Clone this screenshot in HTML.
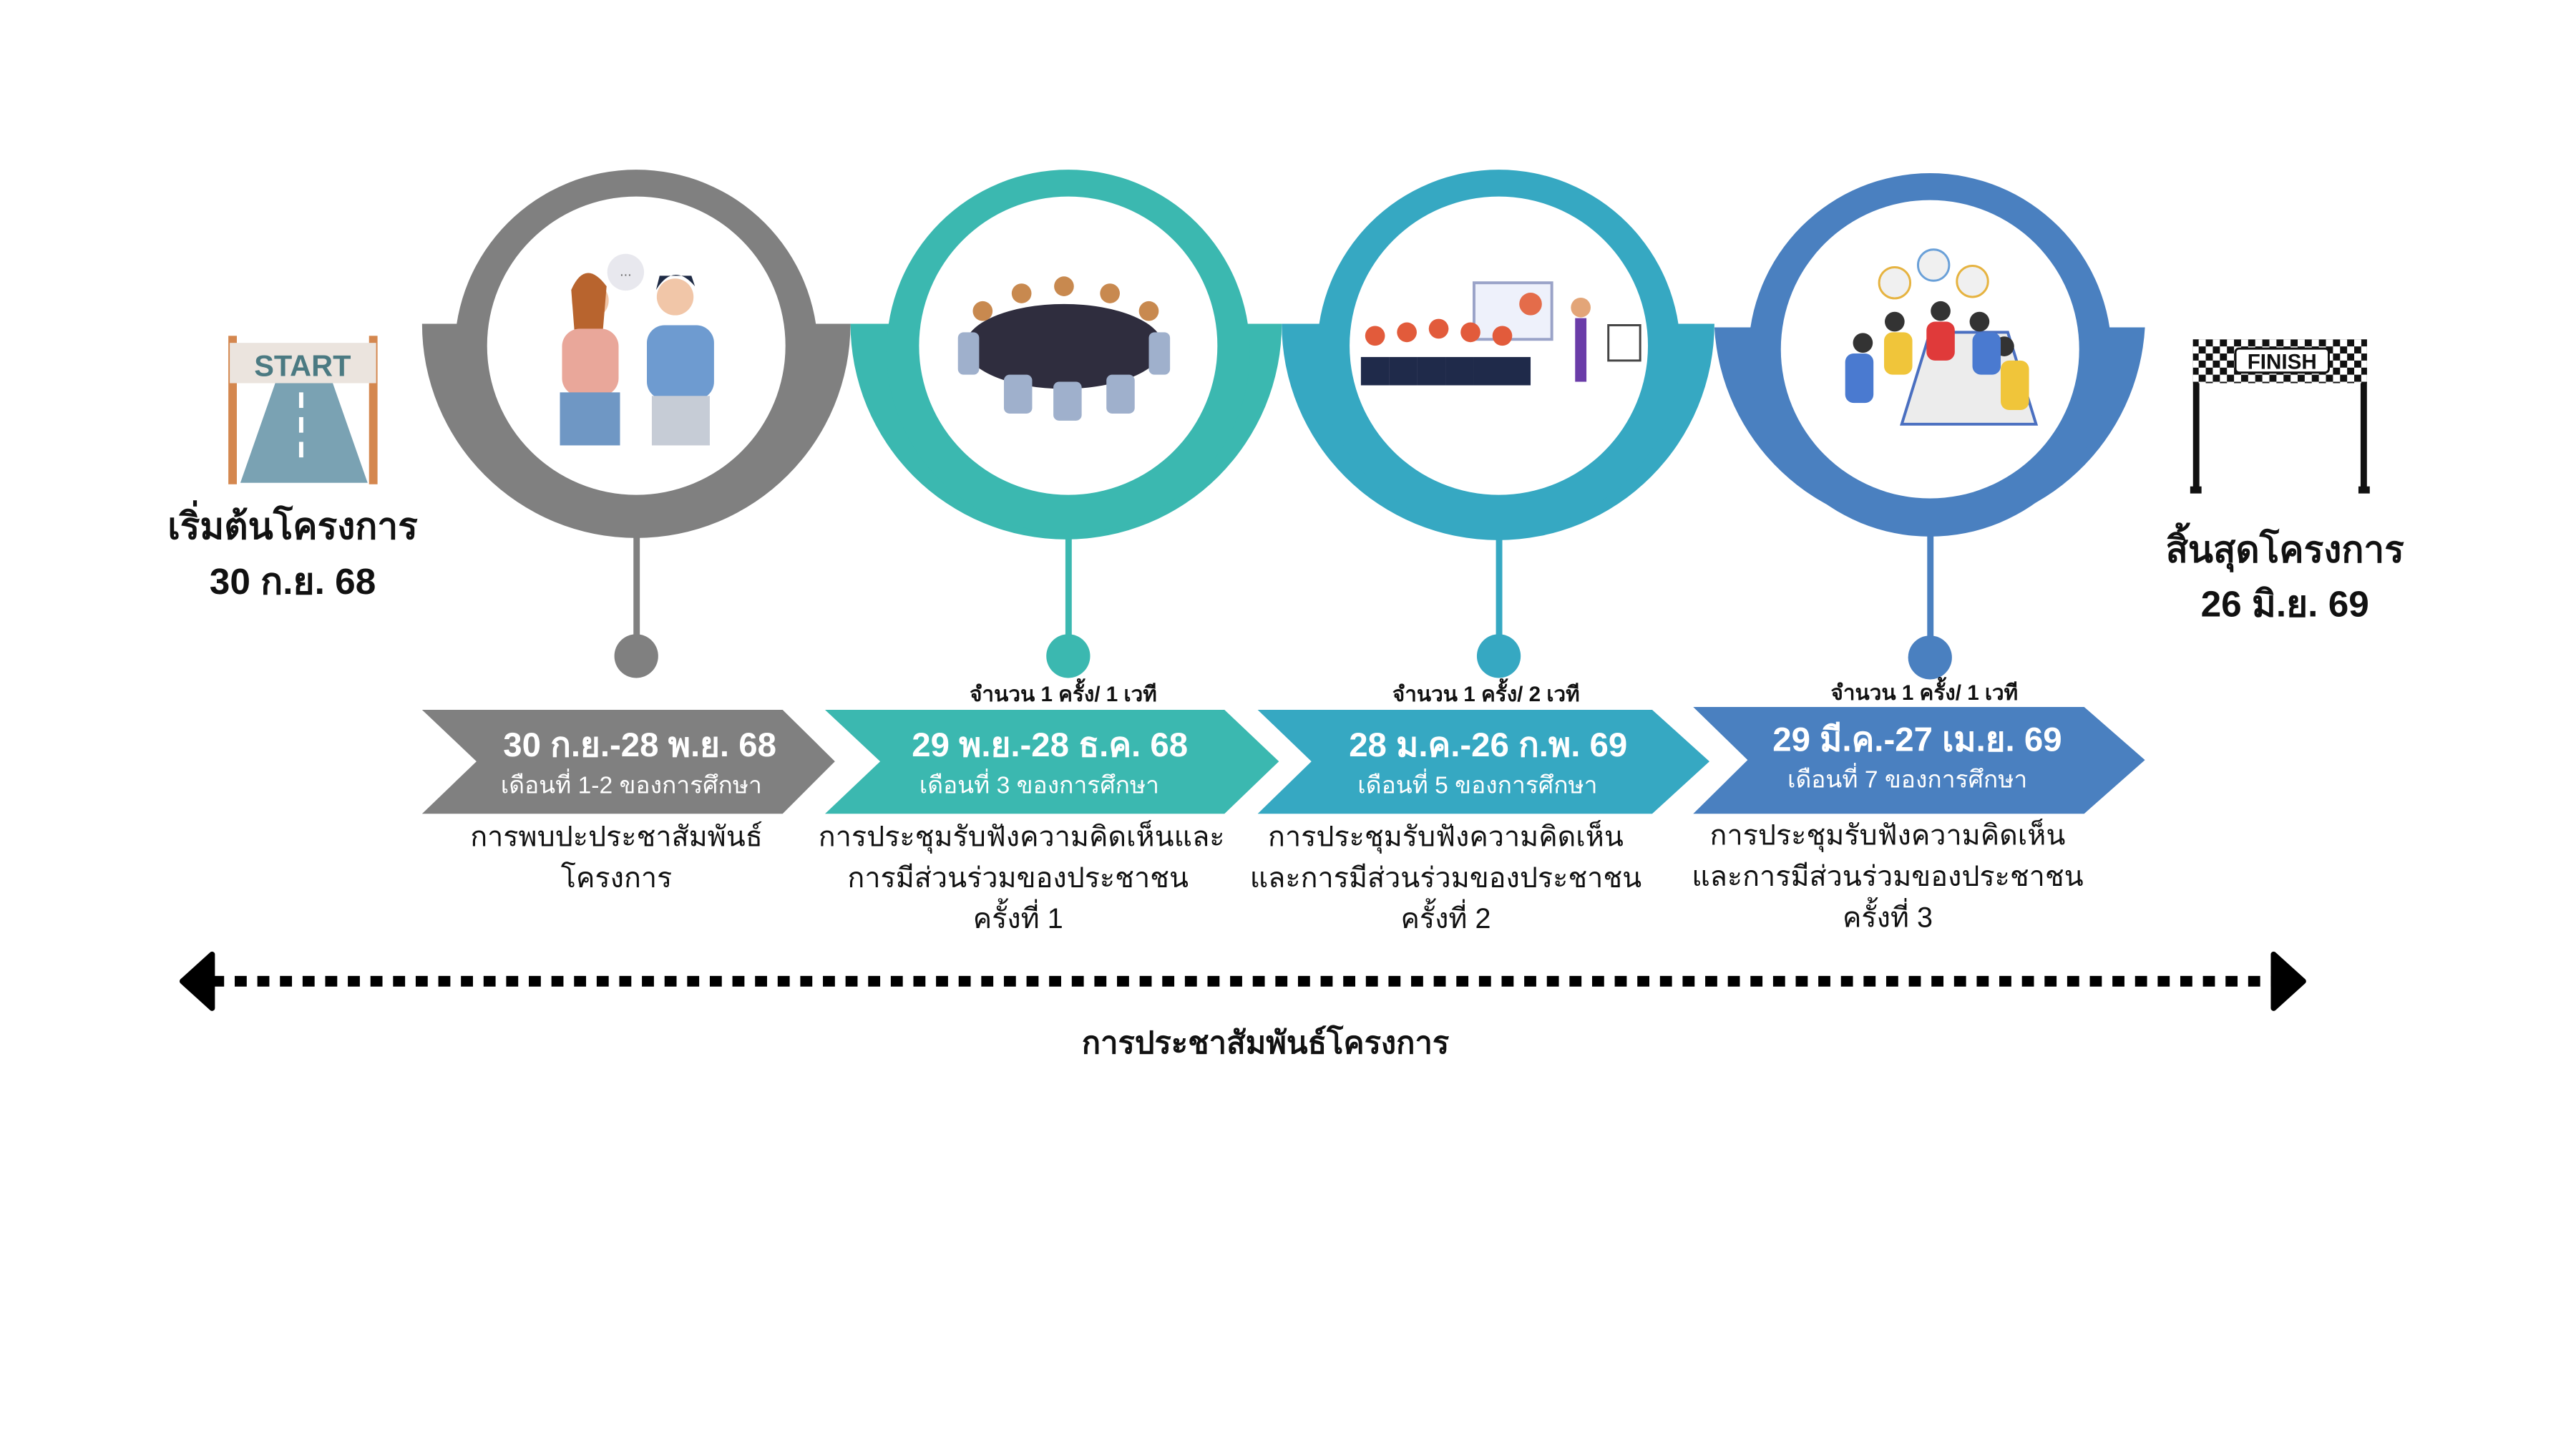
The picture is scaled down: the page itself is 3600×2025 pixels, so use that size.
<!DOCTYPE html>
<html><head><meta charset="utf-8"><style>
html,body{margin:0;padding:0;background:#fff;}
svg{display:block;}
text{font-family:"Liberation Sans","DejaVu Sans",sans-serif;}
</style></head><body>
<svg width="3600" height="2025" viewBox="0 0 3600 2025" xmlns="http://www.w3.org/2000/svg">
<g transform="scale(0.988)">
<!-- cups -->
<path d="M597,458 L1203,458 A303,303 0 0 1 597,458 Z" fill="#808080"/>
<path d="M1203,458 L1813,458 A305,305 0 0 1 1203,458 Z" fill="#3bb8b0"/>
<path d="M1813,458 L2425,458 A306,306 0 0 1 1813,458 Z" fill="#36a8c2"/>
<path d="M2425,463 L3034,463 A305,305 0 0 1 2425,463 Z" fill="#4a80c0"/>
<!-- circles -->
<circle cx="900" cy="497" r="257" fill="#808080"/><circle cx="900" cy="489" r="211" fill="#fff"/>
<circle cx="1511" cy="497" r="257" fill="#3bb8b0"/><circle cx="1511" cy="489" r="211" fill="#fff"/>
<circle cx="2120" cy="497" r="257" fill="#36a8c2"/><circle cx="2120" cy="489" r="211" fill="#fff"/>
<circle cx="2730" cy="502" r="257" fill="#4a80c0"/><circle cx="2730" cy="494" r="211" fill="#fff"/>
<!-- stems -->
<rect x="896" y="750" width="9" height="180" fill="#808080"/><circle cx="900" cy="928" r="31" fill="#808080"/>
<rect x="1507" y="750" width="9" height="180" fill="#3bb8b0"/><circle cx="1511" cy="928" r="31" fill="#3bb8b0"/>
<rect x="2116" y="750" width="9" height="180" fill="#36a8c2"/><circle cx="2120" cy="928" r="31" fill="#36a8c2"/>
<rect x="2726" y="755" width="9" height="180" fill="#4a80c0"/><circle cx="2730" cy="930" r="31" fill="#4a80c0"/>
<!-- illustrations (simplified) -->
<g>
<circle cx="885" cy="385" r="26" fill="#e8e8ee"/><text x="885" y="390" font-size="20" text-anchor="middle" fill="#666">...</text>
<circle cx="835" cy="425" r="26" fill="#f1c6a8"/><path d="M808,410 q20,-45 50,-5 l-5,60 l-40,10z" fill="#b8642e"/>
<rect x="795" y="465" width="80" height="95" rx="25" fill="#e9a79a"/><rect x="792" y="555" width="85" height="75" fill="#6f97c4"/>
<circle cx="955" cy="420" r="26" fill="#f1c6a8"/><path d="M928,410 q25,-40 55,-5 l-5,-15 l-45,0z" fill="#1e2a44"/>
<rect x="915" y="460" width="95" height="105" rx="25" fill="#6e9bd0"/><rect x="922" y="560" width="82" height="70" fill="#c6ccd6"/>
</g>
<g>
<ellipse cx="1505" cy="490" rx="140" ry="60" fill="#2f2d3e"/>
<g fill="#c8894f"><circle cx="1390" cy="440" r="14"/><circle cx="1445" cy="415" r="14"/><circle cx="1505" cy="405" r="14"/><circle cx="1570" cy="415" r="14"/><circle cx="1625" cy="440" r="14"/></g>
<g fill="#9fb0cc"><rect x="1355" y="470" width="30" height="60" rx="8"/><rect x="1625" y="470" width="30" height="60" rx="8"/><rect x="1420" y="530" width="40" height="55" rx="8"/><rect x="1490" y="540" width="40" height="55" rx="8"/><rect x="1565" y="530" width="40" height="55" rx="8"/></g>
</g>
<g>
<rect x="2085" y="400" width="110" height="80" fill="#eef1fb" stroke="#9aa3c8" stroke-width="4"/><circle cx="2165" cy="430" r="16" fill="#e46c4a"/>
<g fill="#1f2a4a"><rect x="1925" y="505" width="40" height="40"/><rect x="1965" y="505" width="40" height="40"/><rect x="2005" y="505" width="40" height="40"/><rect x="2045" y="505" width="40" height="40"/><rect x="2085" y="505" width="40" height="40"/><rect x="2125" y="505" width="40" height="40"/></g>
<g fill="#e25b3b"><circle cx="1945" cy="475" r="14"/><circle cx="1990" cy="470" r="14"/><circle cx="2035" cy="465" r="14"/><circle cx="2080" cy="470" r="14"/><circle cx="2125" cy="475" r="14"/></g>
<rect x="2228" y="450" width="16" height="90" fill="#6a3ca8"/><circle cx="2236" cy="435" r="14" fill="#e3a578"/>
<rect x="2275" y="460" width="45" height="50" fill="#fff" stroke="#444" stroke-width="3"/>
</g>
<g>
<circle cx="2680" cy="400" r="22" fill="#f0f0f0" stroke="#e6b340" stroke-width="3"/><circle cx="2735" cy="375" r="22" fill="#f0f0f0" stroke="#6aa0d8" stroke-width="3"/><circle cx="2790" cy="398" r="22" fill="#f0f0f0" stroke="#e6b340" stroke-width="3"/>
<path d="M2690,600 L2880,600 L2840,470 L2730,470 Z" fill="#ececec" stroke="#4a6fc0" stroke-width="4"/>
<g fill="#333"><circle cx="2635" cy="485" r="14"/><circle cx="2680" cy="455" r="14"/><circle cx="2745" cy="440" r="14"/><circle cx="2800" cy="455" r="14"/><circle cx="2835" cy="490" r="14"/></g>
<g><rect x="2610" y="500" width="40" height="70" rx="12" fill="#4a7ad0"/><rect x="2665" y="470" width="40" height="60" rx="12" fill="#f0c53a"/><rect x="2725" y="455" width="40" height="55" rx="12" fill="#e03a3a"/><rect x="2790" y="470" width="40" height="60" rx="12" fill="#4a7ad0"/><rect x="2830" y="510" width="40" height="70" rx="12" fill="#f0c53a"/></g>
</g>
<!-- chevrons -->
<path d="M597,1004 L1107,1004 L1181,1077 L1107,1151 L597,1151 L674,1077 Z" fill="#808080"/>
<path d="M1167,1004 L1732,1004 L1809,1077 L1732,1151 L1167,1151 L1245,1077 Z" fill="#3bb8b0"/>
<path d="M1779,1004 L2337,1004 L2418,1077 L2337,1151 L1779,1151 L1855,1077 Z" fill="#36a8c2"/>
<path d="M2395,1000 L2948,1000 L3034,1075 L2948,1151 L2395,1151 L2472,1075 Z" fill="#4a80c0"/>
<g fill="#fff" text-anchor="middle">
<text x="905" y="1070" font-size="48" font-weight="bold">30 ก.ย.-28 พ.ย. 68</text>
<text x="893" y="1122" font-size="34">เดือนที่ 1-2 ของการศึกษา</text>
<text x="1485" y="1070" font-size="48" font-weight="bold">29 พ.ย.-28 ธ.ค. 68</text>
<text x="1470" y="1122" font-size="34">เดือนที่ 3 ของการศึกษา</text>
<text x="2105" y="1070" font-size="48" font-weight="bold">28 ม.ค.-26 ก.พ. 69</text>
<text x="2090" y="1122" font-size="34">เดือนที่ 5 ของการศึกษา</text>
<text x="2712" y="1062" font-size="48" font-weight="bold">29 มี.ค.-27 เม.ย. 69</text>
<text x="2698" y="1114" font-size="34">เดือนที่ 7 ของการศึกษา</text>
</g>
<g fill="#111" text-anchor="middle" font-size="30" font-weight="bold">
<text x="1504" y="992">จำนวน 1 ครั้ง/ 1 เวที</text>
<text x="2102" y="992">จำนวน 1 ครั้ง/ 2 เวที</text>
<text x="2722" y="990">จำนวน 1 ครั้ง/ 1 เวที</text>
</g>
<g fill="#111" text-anchor="middle" font-size="40">
<text x="872" y="1197">การพบปะประชาสัมพันธ์</text>
<text x="872" y="1255">โครงการ</text>
<text x="1445" y="1197">การประชุมรับฟังความคิดเห็นและ</text>
<text x="1440" y="1255">การมีส่วนร่วมของประชาชน</text>
<text x="1440" y="1313">ครั้งที่ 1</text>
<text x="2045" y="1197">การประชุมรับฟังความคิดเห็น</text>
<text x="2045" y="1255">และการมีส่วนร่วมของประชาชน</text>
<text x="2045" y="1313">ครั้งที่ 2</text>
<text x="2670" y="1195">การประชุมรับฟังความคิดเห็น</text>
<text x="2670" y="1253">และการมีส่วนร่วมของประชาชน</text>
<text x="2670" y="1311">ครั้งที่ 3</text>
</g>
<!-- start sign -->
<g>
<rect x="323" y="475" width="12" height="210" fill="#d4874f"/><rect x="522" y="475" width="12" height="210" fill="#d4874f"/>
<path d="M340,683 L390,540 L470,540 L520,683 Z" fill="#7aa2b3"/>
<rect x="423" y="555" width="6" height="22" fill="#fff"/><rect x="423" y="590" width="6" height="22" fill="#fff"/><rect x="423" y="625" width="6" height="22" fill="#fff"/>
<rect x="325" y="485" width="207" height="57" fill="#ebe4de"/>
<text x="428" y="532" font-size="42" font-weight="bold" fill="#4b7a82" text-anchor="middle">START</text>
</g>
<g fill="#111" text-anchor="middle" font-weight="bold" font-size="52">
<text x="414" y="762">เริ่มต้นโครงการ</text>
<text x="414" y="840">30 ก.ย. 68</text>
<text x="3232" y="795">สิ้นสุดโครงการ</text>
<text x="3232" y="872">26 มิ.ย. 69</text>
</g>
<!-- finish -->
<g>
<rect x="3102" y="480" width="9" height="215" fill="#111"/><rect x="3339" y="480" width="9" height="215" fill="#111"/>
<rect x="3098" y="688" width="16" height="10" fill="#111"/><rect x="3336" y="688" width="16" height="10" fill="#111"/>
<defs><pattern id="chk" width="20" height="20" patternUnits="userSpaceOnUse"><rect width="20" height="20" fill="#fff"/><rect width="10" height="10" fill="#111"/><rect x="10" y="10" width="10" height="10" fill="#111"/></pattern></defs>
<rect x="3102" y="480" width="246" height="62" fill="url(#chk)"/>
<rect x="3162" y="493" width="132" height="34" rx="5" fill="#fff" stroke="#111" stroke-width="3"/>
<text x="3228" y="522" font-size="30" font-weight="bold" fill="#111" text-anchor="middle">FINISH</text>
</g>
<!-- dotted arrow -->
<line x1="300" y1="1388" x2="3215" y2="1388" stroke="#000" stroke-width="15" stroke-dasharray="17,15"/>
<path d="M258,1388 L300,1350 L300,1426 Z" fill="#000" stroke="#000" stroke-width="8" stroke-linejoin="round"/>
<path d="M3258,1388 L3216,1350 L3216,1426 Z" fill="#000" stroke="#000" stroke-width="8" stroke-linejoin="round"/>
<text x="1790" y="1490" font-size="44" font-weight="bold" fill="#111" text-anchor="middle">การประชาสัมพันธ์โครงการ</text>
</g>
</svg>
</body></html>
